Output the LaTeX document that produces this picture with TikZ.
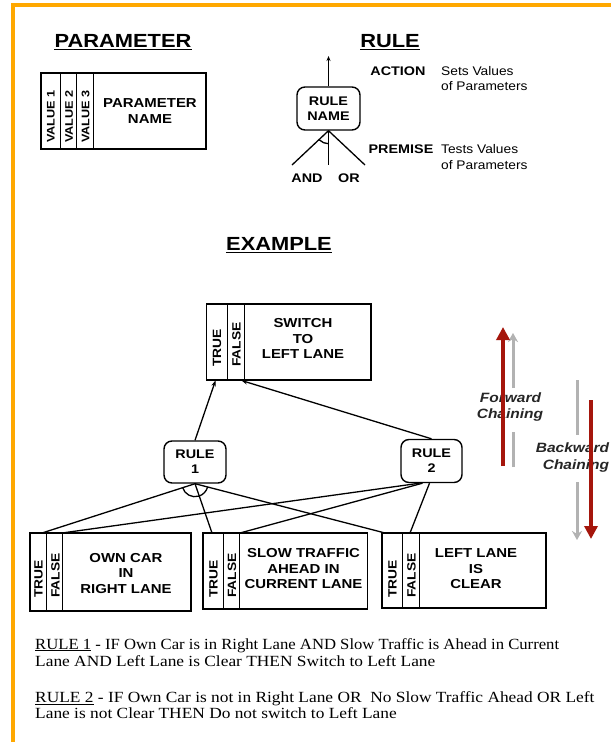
\documentclass[tikz,border=0pt]{standalone}
\usepackage{fontspec}
\usepackage{graphicx}
\setmainfont{Liberation Serif}
\newfontfamily\wsans[FakeStretch=1.15]{Liberation Sans}
\newfontfamily\nsans[FakeStretch=1.1]{Liberation Sans}
\newfontfamily\wserif[FakeStretch=1.12]{Liberation Serif}
\usetikzlibrary{arrows.meta}
\definecolor{orng}{RGB}{255,168,0}
\definecolor{chainred}{RGB}{165,22,12}
\tikzset{
  box/.style={draw, line width=1.4pt, rectangle, inner sep=0pt, fill=white},
  divider/.style={line width=1.3pt},
  rbox/.style={draw, line width=1.4pt, rounded corners=8pt, inner sep=0pt, fill=white,
    minimum width=62pt, minimum height=42pt, align=center,
    font=\wsans\bfseries\fontsize{12.5}{15}\selectfont},
  lbl/.style={font=\wsans\bfseries\fontsize{13}{15.5}\selectfont, align=center, inner sep=0pt},
  vlbl/.style={font=\wsans\bfseries\fontsize{12}{12}\selectfont, rotate=90, inner sep=0pt, anchor=west},
  vsmall/.style={font=\wsans\bfseries\fontsize{11}{11}\selectfont, rotate=90, inner sep=0pt, anchor=west},
  head/.style={font=\wsans\bfseries\fontsize{19}{22}\selectfont, inner sep=0pt, anchor=base},
  uline/.style={line width=1.8pt},
  conn/.style={line width=1.3pt},
  arr/.style={conn, -{Stealth[length=6pt,width=4.5pt]}},
  kw/.style={font=\wsans\bfseries\fontsize{12.5}{15}\selectfont, inner sep=0pt, anchor=base},
  note/.style={font=\nsans\fontsize{12.5}{15}\selectfont, inner sep=0pt, anchor=base west},
  rtext/.style={font=\wserif\fontsize{15.5}{16}\selectfont, inner sep=0pt, anchor=base west},
  chaintext/.style={font=\wsans\bfseries\itshape\fontsize{13.5}{15}\selectfont, inner sep=0pt, text=black!85},
  grayarrow/.style={line width=3pt, draw=black!30},
  redarrow/.style={line width=4pt, draw=chainred},
}
\begin{document}
\begin{tikzpicture}[x=1pt,y=-1pt]
\useasboundingbox (0,0) rectangle (611,742);
\fill[white] (0,0) rectangle (611,742);
% orange frame
\draw[orng, line width=3.5pt] (13,742) -- (13,5) -- (611,5);

% headings
\node[head] (hpar) at (123,47) {PARAMETER};
\draw[uline] ([yshift=-2.5pt]hpar.base west) -- ([yshift=-2.5pt]hpar.base east);
\node[head] (hrule) at (390,47) {RULE};
\draw[uline] ([yshift=-2.5pt]hrule.base west) -- ([yshift=-2.5pt]hrule.base east);
\node[head] (hex) at (279,250) {EXAMPLE};
\draw[uline] ([yshift=-2.5pt]hex.base west) -- ([yshift=-2.5pt]hex.base east);

% parameter legend box
\node[box, minimum width=165pt, minimum height=76pt] (pbox) at (123.5,111) {};
\foreach \d in {20,36,53} \draw[divider] ([xshift=\d pt]pbox.north west) -- ([xshift=\d pt]pbox.south west);
\node[vsmall] (v1) at (51,143) {VALUE 1};
\node[vsmall] (v2) at (69,143) {VALUE 2};
\node[vsmall] (v3) at (85.5,143) {VALUE 3};
\node[lbl] (pname) at (150,111) {PARAMETER\\NAME};

% rule legend
\node[rbox, minimum width=63pt, minimum height=43pt] (rn) at (328.5,108.5) {RULE\\NAME};
\coordinate (rtop) at (328.5,56);
\coordinate (rl) at (292,165);
\coordinate (rm) at (328.5,165);
\coordinate (rr) at (365,165);
\draw[conn, -{Stealth[length=5pt,width=4pt]}] (rn.north) -- (rtop);
\draw[conn] (rn.south) -- (rl);
\draw[conn] (rn.south) -- (rm);
\draw[conn] (rn.south) -- (rr);
\draw[conn] ([shift={(225:13pt)}]rn.south) arc[start angle=225, end angle=270, radius=13pt];
\node[kw] (kand) at (307,182) {AND};
\node[kw] (kor) at (349,182) {OR};
\node[kw] (kact) at (398,75) {ACTION};
\node[note] (nset) at (441,75) {Sets Values};
\node[note] (nsetb) at (441,90.5) {of Parameters};
\node[kw] (kpre) at (401,153) {PREMISE};
\node[note] (ntest) at (441,153) {Tests Values};
\node[note] (ntestb) at (441,169) {of Parameters};

% example: top parameter
\node[box, minimum width=164.5pt, minimum height=76pt] (sw) at (288.75,342) {};
\foreach \d in {21.5,38.5} \draw[divider] ([xshift=\d pt]sw.north west) -- ([xshift=\d pt]sw.south west);
\node[vlbl] (swtrue) at (217,367) {TRUE};
\node[vlbl] (swfalse) at (236.5,367) {FALSE};
\node[lbl] (swtext) at (303,338.5) {SWITCH\\TO\\LEFT LANE};

% rules
\node[rbox] (r1) at (195,462) {RULE\\1};
\node[rbox, minimum width=61pt, minimum height=43pt] (r2) at (431.5,461) {RULE\\2};
\coordinate (swT) at (215.5,380.5);
\coordinate (swF) at (241.5,380.5);
\draw[arr] (r1.north) -- (swT);
\draw[arr] (r2.north) -- (swF);

% premise connectors
\coordinate (aT) at (42,533);
\coordinate (aF) at (62,533);
\coordinate (bT) at (212,533);
\coordinate (bF) at (240,533);
\coordinate (cT) at (385,533);
\coordinate (cF) at (410,533);
\coordinate (r2a) at ([xshift=-12pt]r2.south);
\coordinate (r2b) at ([xshift=-9pt]r2.south);
\coordinate (r2c) at ([xshift=-2pt]r2.south);
\draw[conn] (r1.south) -- (aT);
\draw[conn] (r1.south) -- (bT);
\draw[conn] (r1.south) -- (cT);
\draw[conn] ([shift={(197:13pt)}]r1.south) arc[start angle=197, end angle=346, radius=13pt];
\draw[conn] (r2a) -- (aF);
\draw[conn] (r2b) -- (bF);
\draw[conn] (r2c) -- (cF);

% bottom parameters
\node[box, minimum width=161pt, minimum height=78pt] (pa) at (110.5,572) {};
\foreach \d in {17,33.5} \draw[divider] ([xshift=\d pt]pa.north west) -- ([xshift=\d pt]pa.south west);
\node[vlbl] (patrue) at (38.5,598) {TRUE};
\node[vlbl] (pafalse) at (55.5,598) {FALSE};
\node[lbl] (patext) at (126,573.5) {OWN CAR\\IN\\RIGHT LANE};

\node[box, minimum width=164.5pt, minimum height=76pt] (pb) at (285.25,571) {};
\foreach \d in {21,37} \draw[divider] ([xshift=\d pt]pb.north west) -- ([xshift=\d pt]pb.south west);
\node[vlbl] (pbtrue) at (213.5,598) {TRUE};
\node[vlbl] (pbfalse) at (232,598) {FALSE};
\node[lbl] (pbtext) at (303.5,569) {SLOW TRAFFIC\\AHEAD IN\\CURRENT LANE};

\node[box, minimum width=164pt, minimum height=75pt] (pc) at (464,570.5) {};
\foreach \d in {21,38} \draw[divider] ([xshift=\d pt]pc.north west) -- ([xshift=\d pt]pc.south west);
\node[vlbl] (pctrue) at (392.5,598) {TRUE};
\node[vlbl] (pcfalse) at (411.5,598) {FALSE};
\node[lbl] (pctext) at (476,569) {LEFT LANE\\IS\\CLEAR};

% chaining arrows
\coordinate (fg1) at (513,467);
\coordinate (fg2) at (513,432);
\coordinate (fg3) at (513,388);
\coordinate (fg4) at (513,333);
\draw[grayarrow] (fg1) -- (fg2);
\draw[grayarrow, -{Stealth[length=9pt,width=10pt]}] (fg3) -- (fg4);
\coordinate (bg1) at (577,380);
\coordinate (bg2) at (577,435);
\coordinate (bg3) at (577,482);
\coordinate (bg4) at (577,540);
\draw[grayarrow] (bg1) -- (bg2);
\draw[grayarrow, -{Stealth[length=9pt,width=10pt]}] (bg3) -- (bg4);
\node[chaintext] (fwd) at (510.5,398) {Forward};
\node[chaintext] (fwc) at (510,415) {Chaining};
\node[chaintext] (bwd) at (572.5,448) {Backward};
\node[chaintext] (bwc) at (576,466) {Chaining};
\coordinate (ru1) at (503,466);
\coordinate (ru2) at (503,327);
\coordinate (rd1) at (591,400);
\coordinate (rd2) at (591,539);
\draw[redarrow, -{Triangle[length=13pt,width=13pt]}] (ru1) -- (ru2);
\draw[redarrow, -{Triangle[length=13pt,width=13pt]}] (rd1) -- (rd2);

% rule descriptions
\node[rtext] (t1a) at (35,649) {\scalebox{0.96}[1]{\underline{RULE 1} - IF Own Car is in Right Lane AND Slow Traffic is Ahead in Current}};
\node[rtext] (t1b) at (35,666) {Lane AND Left Lane is Clear THEN Switch to Left Lane};
\node[rtext] (t2a) at (35,702.5) {\underline{RULE 2} - IF Own Car is not in Right Lane OR\ \ No Slow Traffic Ahead OR Left};
\node[rtext] (t2b) at (35,718) {Lane is not Clear THEN Do not switch to Left Lane};
\end{tikzpicture}
\end{document}
